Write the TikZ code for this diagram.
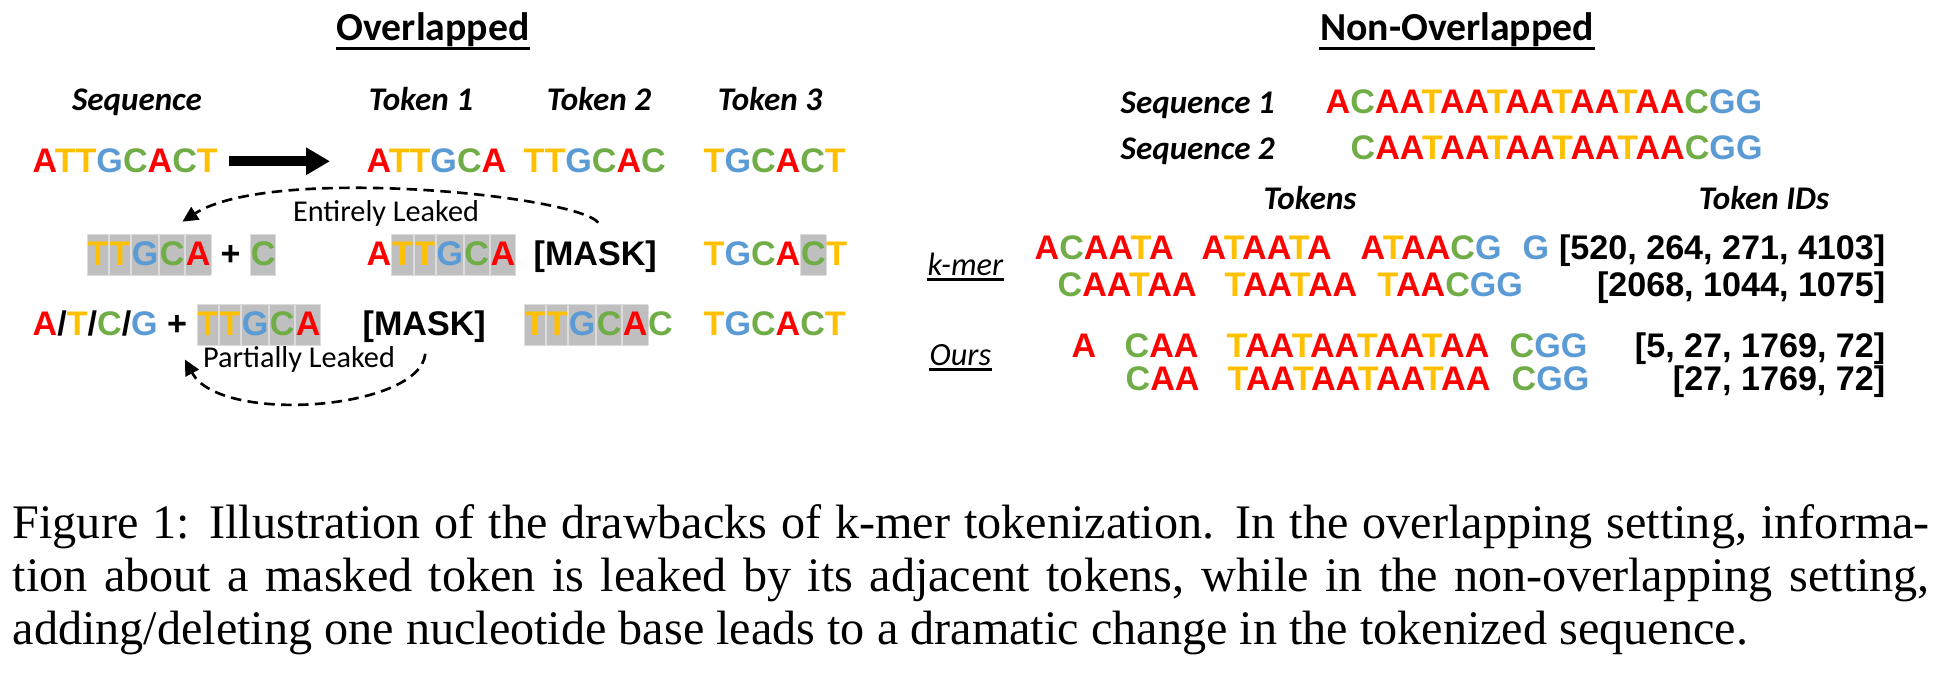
\documentclass[tikz,border=0pt]{standalone}
\usepackage{fontspec}
\usepackage{xcolor}
\usepackage{tikz}
\usetikzlibrary{arrows.meta}

\setmainfont{Liberation Sans}
\newfontfamily\calfont{Carlito}
\newfontfamily\capfont{Liberation Serif}

\definecolor{baseA}{HTML}{FF0000}
\definecolor{baseT}{HTML}{FFC000}
\definecolor{baseG}{HTML}{5B9BD5}
\definecolor{baseC}{HTML}{70AD47}
\definecolor{boxfill}{HTML}{BFBFBF}
\definecolor{boxline}{HTML}{DCDCDC}

%coloured bases, with the A-T kerning put back by hand
\def\dnaAT{AT}\def\dnaTA{TA}
\newcommand\dna[1]{\def\dnaprev{}\edef\dnatmp{#1}\expandafter\dnaloop\dnatmp\relax}
\def\dnaloop#1{\ifx\relax#1\else\dnaput{#1}\expandafter\dnaloop\fi}
\def\dnaput#1{\edef\dnapair{\dnaprev#1}%
  \ifx\dnapair\dnaAT\kern-.074em\fi\ifx\dnapair\dnaTA\kern-.074em\fi
  \textcolor{base#1}{#1}\def\dnaprev{#1}}

%bases on a grey box
\setlength{\fboxsep}{0pt}
\setlength{\fboxrule}{0.2pt}
\newcommand\dnabox[1]{\edef\dnatmp{#1}\expandafter\dnaboxloop\dnatmp\relax}
\def\dnaboxloop#1{\ifx\relax#1\else\dnaboxput{#1}\expandafter\dnaboxloop\fi}
\def\dnaboxput#1{\fcolorbox{boxline}{boxfill}{\rule[-2.6pt]{0pt}{11.4pt}\textcolor{base#1}{#1}}}

\begin{document}
\begin{tikzpicture}[x=0.01cm, y=-0.01cm,
	ttl/.style={inner sep=0, anchor=base, font=\calfont\bfseries\fontsize{11.3pt}{13pt}\selectfont},
	hdr/.style={inner sep=0, anchor=base, font=\calfont\bfseries\itshape\fontsize{9.4pt}{11pt}\selectfont},
	meth/.style={inner sep=0, anchor=base west, font=\calfont\itshape\fontsize{9.2pt}{11pt}\selectfont},
	leak/.style={inner sep=0, anchor=base, font=\calfont\fontsize{8.6pt}{10pt}\selectfont},
	seq/.style={inner sep=0, anchor=base west, font=\bfseries\fontsize{9.7pt}{11pt}\selectfont},
	ids/.style={inner sep=0, anchor=base east, font=\bfseries\fontsize{9.7pt}{11pt}\selectfont},
	capt/.style={inner sep=0, anchor=base west, font=\capfont\fontsize{13.7pt}{15pt}\selectfont},
	uline/.style={line width=0.85pt},
	leakarrow/.style={line width=0.75pt, dash pattern=on 3pt off 1.8pt,
		-{Triangle[length=4.4pt,width=4.2pt]}},
	bigarrow/.style={line width=2.85pt, -{Triangle[length=6.8pt,width=7.4pt]}}]

	\useasboundingbox (0,0) rectangle (1938,682);

	%overlapped

	\node[ttl] (ovl) at (433,41) {Overlapped};
	\draw[uline] ([yshift=-2.1pt]ovl.base west) -- ([yshift=-2.1pt]ovl.base east);

	\node[hdr] (hseq) at (137,111) {Sequence};
	\node[hdr] (htk1) at (421,111) {Token 1};
	\node[hdr] (htk2) at (599,111) {Token 2};
	\node[hdr] (htk3) at (770,111) {Token 3};

	\node[seq] (s1) at (32,173) {\dna{ATTGCACT}};
	\node[seq] (r1t1) at (366,173) {\dna{ATTGCA}};
	\node[seq] (r1t2) at (523,173) {\dna{TTGCAC}};
	\node[seq] (r1t3) at (703,173) {\dna{TGCACT}};
	\draw[bigarrow, shorten <=0.11cm, shorten >=0.36cm] (s1) -- (r1t1);

	\node[seq] (s2) at (86,266) {\dnabox{TTGCA} + \dnabox{C}};
	\node[seq] (r2t1) at (366,266) {\dna{A}\dnabox{TTGCA}};
	\node[seq] (m2) at (533,266) {[MASK]};
	\node[seq] (r2t3) at (703,266) {\dna{TGCA}\dnabox{C}\dna{T}};

	\node[seq] (s3) at (32,336) {\textcolor{baseA}{A}/\textcolor{baseT}{T}/\textcolor{baseC}{C}/\textcolor{baseG}{G} + \dnabox{TTGCA}};
	\node[seq] (m3) at (362,336) {[MASK]};
	\node[seq] (r3t2) at (523,336) {\dnabox{TTGCA}\dna{C}};
	\node[seq] (r3t3) at (703,336) {\dna{TGCACT}};

	\node[leak] (lk1) at (386,222) {Entirely Leaked};
	\draw[leakarrow] ([shift={(3,-18)}]m2.north) .. controls (575,195) and (270,165) .. ([shift={(1,-12)}]s2.north);
	\node[leak] (lk2) at (299,367) {Partially Leaked};
	\draw[leakarrow] ([shift={(1,10)}]m3.south) .. controls (420,410) and (220,425) .. ([shift={(8,13)}]s3.south);


	%non-overlapped

	\node[ttl] (novl) at (1457,41) {Non-Overlapped};
	\draw[uline] ([yshift=-2.1pt]novl.base west) -- ([yshift=-2.1pt]novl.base east);

	\node[hdr, anchor=base west] (hsq1) at (1120,114) {Sequence 1};
	\node[hdr, anchor=base west] (hsq2) at (1120,160) {Sequence 2};
	\node[seq] (sq1) at (1325,114) {\dna{ACAATAATAATAATAACGG}};
	\node[seq] (sq2) at (1350,160) {\dna{CAATAATAATAATAACGG}};

	\node[hdr] (htok) at (1310,210) {Tokens};
	\node[hdr] (hids) at (1764,210) {Token IDs};

	\node[meth] (kmer) at (927,276) {k-mer};
	\draw[line width=0.7pt] ([yshift=-1pt]kmer.base west) -- ([yshift=-1pt]kmer.base east);
	\foreach \x/\t [count=\i] in {1034/ACAATA, 1201/ATAATA, 1360/ATAACG, 1522/G}
		\node[seq] (ka\i) at (\x,260) {\dna{\t}};
	\foreach \x/\t [count=\i] in {1057/CAATAA, 1224/TAATAA, 1377/TAACGG}
		\node[seq] (kb\i) at (\x,297) {\dna{\t}};
	\node[ids] (kida) at (1886,260) {[520, 264, 271, 4103]};
	\node[ids] (kidb) at (1886,297) {[2068, 1044, 1075]};

	\node[meth] (ours) at (929,366) {Ours};
	\draw[line width=0.7pt] ([yshift=-1pt]ours.base west) -- ([yshift=-1pt]ours.base east);
	\foreach \x/\t [count=\i] in {1071/A, 1124/CAA, 1226/TAATAATAATAA, 1509/CGG}
		\node[seq] (oa\i) at (\x,357) {\dna{\t}};
	\foreach \x/\t [count=\i] in {1125/CAA, 1227/TAATAATAATAA, 1511/CGG}
		\node[seq] (ob\i) at (\x,391) {\dna{\t}};
	\node[ids] (oida) at (1886,357) {[5, 27, 1769, 72]};
	\node[ids] (oidb) at (1886,391) {[27, 1769, 72]};


	%caption, one node a line

	\node[capt] (cap1) at (12,538) {\makebox[19.16cm][s]{Figure 1: Illustration of the drawbacks of k-mer tokenization. In the overlapping setting, informa-}};
	\node[capt] (cap2) at (12,591) {\makebox[19.16cm][s]{tion about a masked token is leaked by its adjacent tokens, while in the non-overlapping setting,}};
	\node[capt] (cap3) at (12,644) {adding/deleting one nucleotide base leads to a dramatic change in the tokenized sequence.};

\end{tikzpicture}
\end{document}
